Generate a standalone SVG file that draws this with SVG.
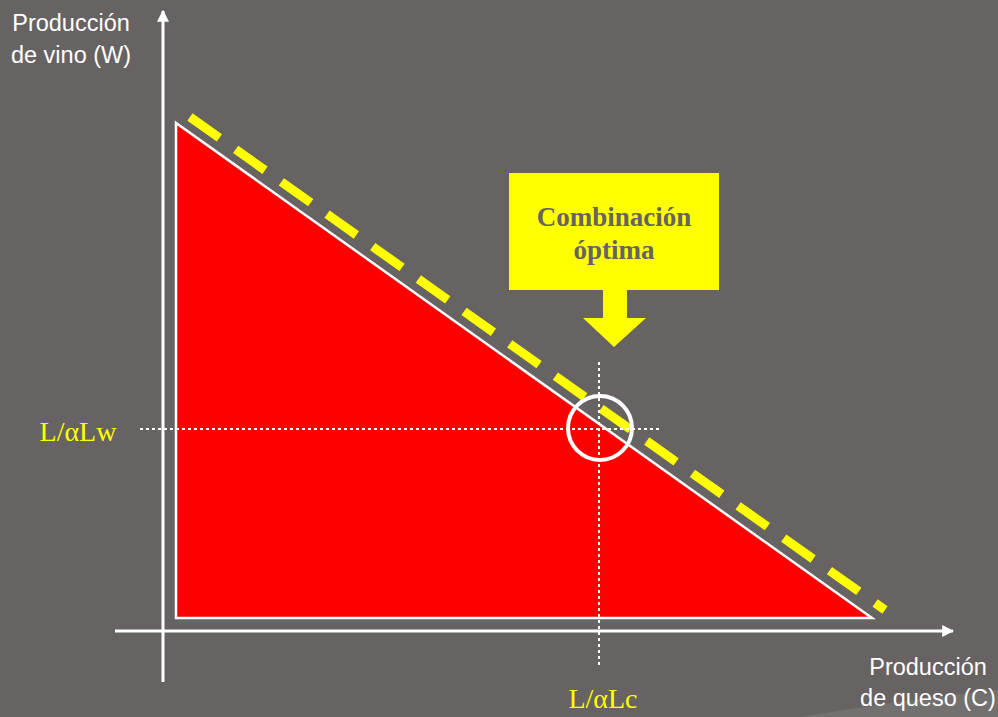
<svg xmlns="http://www.w3.org/2000/svg" width="998" height="717" viewBox="0 0 998 717">
<defs>
<style>
.lbl{font-family:"Liberation Sans","Open Sans",sans-serif;font-size:23.5px;fill:#ffffff;text-anchor:middle}
.yl{font-family:"Liberation Serif","Times New Roman",serif;font-size:28px;fill:#ffff00;text-anchor:middle}
.bx{font-family:"Liberation Serif","Times New Roman",serif;font-size:27px;font-weight:bold;fill:#676362;text-anchor:middle}
.axis{stroke:#ffffff;stroke-width:3;fill:none}
.dot{stroke:#ffffff;stroke-width:2;stroke-dasharray:3 3;fill:none}
</style>
<marker id="ah" viewBox="0 0 10 10" refX="9" refY="5" markerWidth="4" markerHeight="4" orient="auto" markerUnits="strokeWidth">
<path d="M0,0 L10,5 L0,10 z" fill="#ffffff"/>
</marker>
</defs>
<rect width="998" height="717" fill="#676362"/>
<path d="M800,717 Q900,700 998,690 L998,717 z" fill="#737070"/>
<g id="region">
<polygon points="176,123 176,618 872,618" fill="#ff0000" stroke="#ffffff" stroke-width="2.5"/>
</g>
<g id="connectors">
<line class="axis" x1="163" y1="682" x2="163" y2="11" marker-end="url(#ah)"/>
<line class="axis" x1="115" y1="631" x2="953" y2="631" marker-end="url(#ah)"/>
<line x1="190" y1="117" x2="885" y2="610" stroke="#ffff00" stroke-width="9" stroke-dasharray="36 20"/>
<line class="dot" x1="140" y1="429" x2="660" y2="429"/>
<line class="dot" x1="599" y1="362" x2="599" y2="668"/>
</g>
<g id="optimum">
<circle cx="600" cy="428" r="32" fill="none" stroke="#ffffff" stroke-width="4"/>
</g>
<g id="callout">
<rect x="509" y="173" width="210" height="117" fill="#ffff00"/>
<polygon points="603,290 627,290 627,318 646,318 614,347 583,318 603,318" fill="#ffff00"/>
<text class="bx" x="614" y="226">Combinación</text>
<text class="bx" x="614" y="259">óptima</text>
</g>
<g id="labels">
<text class="lbl" x="71" y="31">Producción</text>
<text class="lbl" x="71" y="63">de vino (W)</text>
<text class="lbl" x="928" y="675">Producción</text>
<text class="lbl" x="928" y="706">de queso (C)</text>
<text class="yl" x="78" y="441">L/αLw</text>
<text class="yl" x="603" y="708">L/αLc</text>
</g>
</svg>
